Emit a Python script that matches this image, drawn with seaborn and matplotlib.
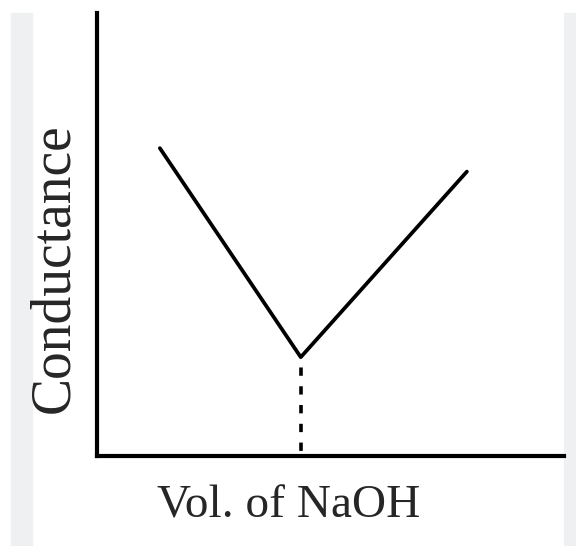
import matplotlib
matplotlib.use("Agg")
import matplotlib.pyplot as plt
import seaborn as sns
import pandas as pd
from matplotlib.patches import Rectangle

# Conductometric titration curve
vol_naoh = [1.34, 4.36, 7.92]
conductance = [6.95, 2.23, 6.42]
x_label = "Vol. of NaOH"
y_label = "Conductance"

df = pd.DataFrame({"vol": vol_naoh, "cond": conductance})

sns.set_style("white")
plt.rcParams["font.family"] = ["Liberation Serif", "DejaVu Serif"]

fig = plt.figure(figsize=(5.76, 5.46), dpi=100)
ax = fig.add_axes([0.169, 0.165, 0.81, 0.811])

# light grey page edges from the original scan
fig.add_artist(Rectangle((0.019, 0), 0.036, 0.976, transform=fig.transFigure,
                         color="#eff0f2", zorder=-10))
fig.add_artist(Rectangle((0.979, 0), 0.03, 0.976, transform=fig.transFigure,
                         color="#eff0f2", zorder=-10))

sns.lineplot(data=df, x="vol", y="cond", sort=False, color="black",
             linewidth=2.7, ax=ax)

# dotted drop line from the equivalence point
i_min = conductance.index(min(conductance))
ax.plot([vol_naoh[i_min], vol_naoh[i_min]], [conductance[i_min], 0],
        color="black", linewidth=2.6, linestyle=(2.3, (2.3, 2.9)),
        solid_capstyle="butt", dash_capstyle="butt")

ax.set_xlim(0, 10)
ax.set_ylim(0, 10)
ax.set_xticks([])
ax.set_yticks([])
sns.despine(ax=ax)
for side in ["left", "bottom"]:
    ax.spines[side].set_linewidth(3.0)
    ax.spines[side].set_color("black")

ax.set_xlabel(x_label, fontsize=34, va="center")
ax.set_ylabel(y_label, fontsize=40, va="center")
ax.xaxis.set_label_coords(0.41, -0.113)
ax.yaxis.set_label_coords(-0.093, 0.425)

fig.savefig("out.png", dpi=100)
